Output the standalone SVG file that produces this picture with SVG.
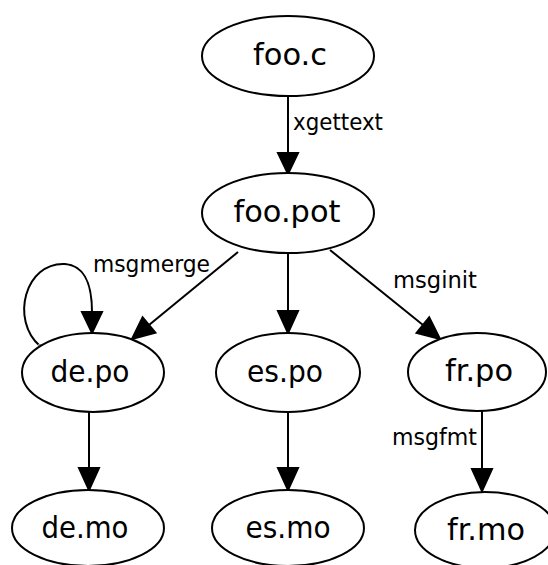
<svg xmlns="http://www.w3.org/2000/svg" width="548" height="565" viewBox="0 0 548 565">
<style>
.n ellipse{fill:#fff;stroke:#000;stroke-width:2}
.n text{font-family:"DejaVu Sans",sans-serif;font-size:31px;text-anchor:middle;fill:#000}
.e path,.e line{fill:none;stroke:#000;stroke-width:2}
.e polygon{fill:#000;stroke:#000;stroke-width:2}
.l{font-family:"DejaVu Sans",sans-serif;font-size:23px;fill:#000}
</style>
<rect width="548" height="565" fill="#fff"/>
<g id="edges" class="e">
<line x1="288" y1="96" x2="288" y2="153"/>
<polygon points="278,153 298,153 288,174"/>
<line x1="238" y1="252" x2="149" y2="325"/>
<polygon points="155.4,332.7 142.6,317.3 132,339"/>
<line x1="288" y1="253" x2="288" y2="311"/>
<polygon points="278,311 298,311 288,333"/>
<line x1="330" y1="250" x2="423" y2="325"/>
<polygon points="416.6,333 429.2,317.4 440,339"/>
<line x1="89" y1="412" x2="89" y2="468"/>
<polygon points="79,468 99,468 89,490"/>
<line x1="288" y1="412" x2="288" y2="468"/>
<polygon points="278,468 298,468 288,490"/>
<line x1="482" y1="410" x2="482" y2="469"/>
<polygon points="472,469 492,469 482,491"/>
<path d="M40,346 C10,320 25,262 65,264 C88,266 92,290 92,312"/>
<polygon points="82,312 102,312 92,333"/>
<rect x="38" y="344" width="4" height="4" fill="#888" stroke="none"/>
</g>
<g id="labels">
<text class="l" x="293" y="130" textLength="90" lengthAdjust="spacingAndGlyphs">xgettext</text>
<text class="l" x="93" y="272" textLength="117" lengthAdjust="spacingAndGlyphs">msgmerge</text>
<text class="l" x="393" y="288" textLength="84" lengthAdjust="spacingAndGlyphs">msginit</text>
<text class="l" x="392" y="445" textLength="85" lengthAdjust="spacingAndGlyphs">msgfmt</text>
</g>
<g id="foo_c" class="n"><ellipse cx="288" cy="56" rx="86" ry="40"/><text x="290" y="65" textLength="74" lengthAdjust="spacingAndGlyphs">foo.c</text></g>
<g id="foo_pot" class="n"><ellipse cx="288" cy="213" rx="86" ry="40"/><text x="287" y="222" textLength="107" lengthAdjust="spacingAndGlyphs">foo.pot</text></g>
<g id="de_po" class="n"><ellipse cx="93" cy="372.5" rx="71" ry="39.5"/><text x="90" y="382" textLength="79" lengthAdjust="spacingAndGlyphs">de.po</text></g>
<g id="es_po" class="n"><ellipse cx="288" cy="372.5" rx="72" ry="39.5"/><text x="285" y="382" textLength="76" lengthAdjust="spacingAndGlyphs">es.po</text></g>
<g id="fr_po" class="n"><ellipse cx="477" cy="372" rx="69" ry="39"/><text x="479" y="381" textLength="68" lengthAdjust="spacingAndGlyphs">fr.po</text></g>
<g id="de_mo" class="n"><ellipse cx="88" cy="528" rx="76" ry="38"/><text x="85" y="538" textLength="87" lengthAdjust="spacingAndGlyphs">de.mo</text></g>
<g id="es_mo" class="n"><ellipse cx="288" cy="528" rx="76" ry="38"/><text x="288" y="538" textLength="85" lengthAdjust="spacingAndGlyphs">es.mo</text></g>
<g id="fr_mo" class="n"><ellipse cx="485" cy="530" rx="70" ry="38"/><text x="486" y="540" textLength="78" lengthAdjust="spacingAndGlyphs">fr.mo</text></g>
</svg>
